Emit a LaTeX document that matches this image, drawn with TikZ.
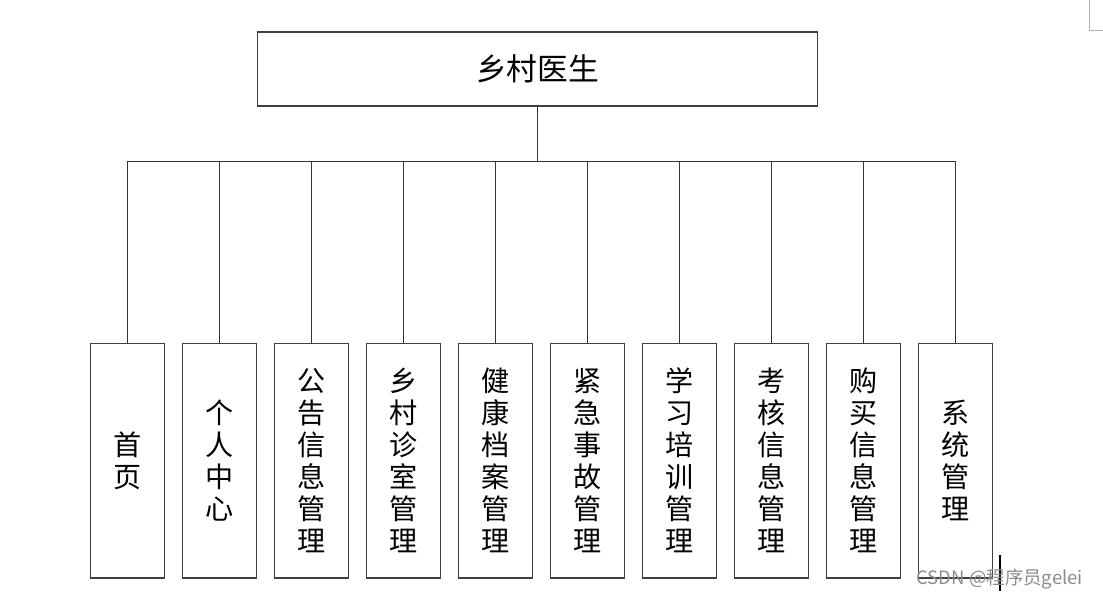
\documentclass[tikz,border=0pt]{standalone}
\usepackage{fontspec}
\setmainfont{Noto Sans CJK SC}
\usepackage{xcolor}
\usetikzlibrary{positioning, calc}

\begin{document}
\begin{tikzpicture}[
  x=0.02cm, y=-0.02cm,
  root/.style={rectangle, draw=black!75, line width=0.6pt, fill=white,
               minimum width=11.22cm, minimum height=1.48cm, inner sep=0pt,
               font=\fontsize{17.5}{19}\selectfont},
  module/.style={rectangle, draw=black!75, line width=0.6pt, fill=white,
                 minimum width=1.47cm, minimum height=4.7cm, inner sep=0pt,
                 align=center, font=\fontsize{16}{18.2}\selectfont},
  link/.style={line width=0.6pt, black!80},
]
\useasboundingbox (0,0) rectangle (1103,599);

% Root
\node[root] (root) at (537.5,69) {乡村医生};

% Modules
\foreach \i/\txt in {1/首\\页, 2/个\\人\\中\\心, 3/公\\告\\信\\息\\管\\理,
                     4/乡\\村\\诊\\室\\管\\理, 5/健\\康\\档\\案\\管\\理,
                     6/紧\\急\\事\\故\\管\\理, 7/学\\习\\培\\训\\管\\理,
                     8/考\\核\\信\\息\\管\\理, 9/购\\买\\信\\息\\管\\理,
                     10/系\\统\\管\\理}
  \node[module] (m\i) at ({127.7+92*(\i-1)},460.5) {\txt};

% Tree lines
\coordinate (bus) at ($(root.south)+(0,55)$);
\draw[link] (root.south) -- (bus);
\foreach \i in {1,...,10}
  \draw[link] (bus) -| (m\i.north);

% Page marks
\draw[black!30, line width=0.5pt] (1089,0) -- (1089,30) -- (1103,30);
\draw[black, line width=1.2pt] (1000,555) -- (1000,591);

% Watermark
\node[font=\fontsize{10.5}{12}\selectfont, text=black!45, anchor=east] (wm) at (1089,579) {CSDN @程序员gelei};
\end{tikzpicture}
\end{document}
